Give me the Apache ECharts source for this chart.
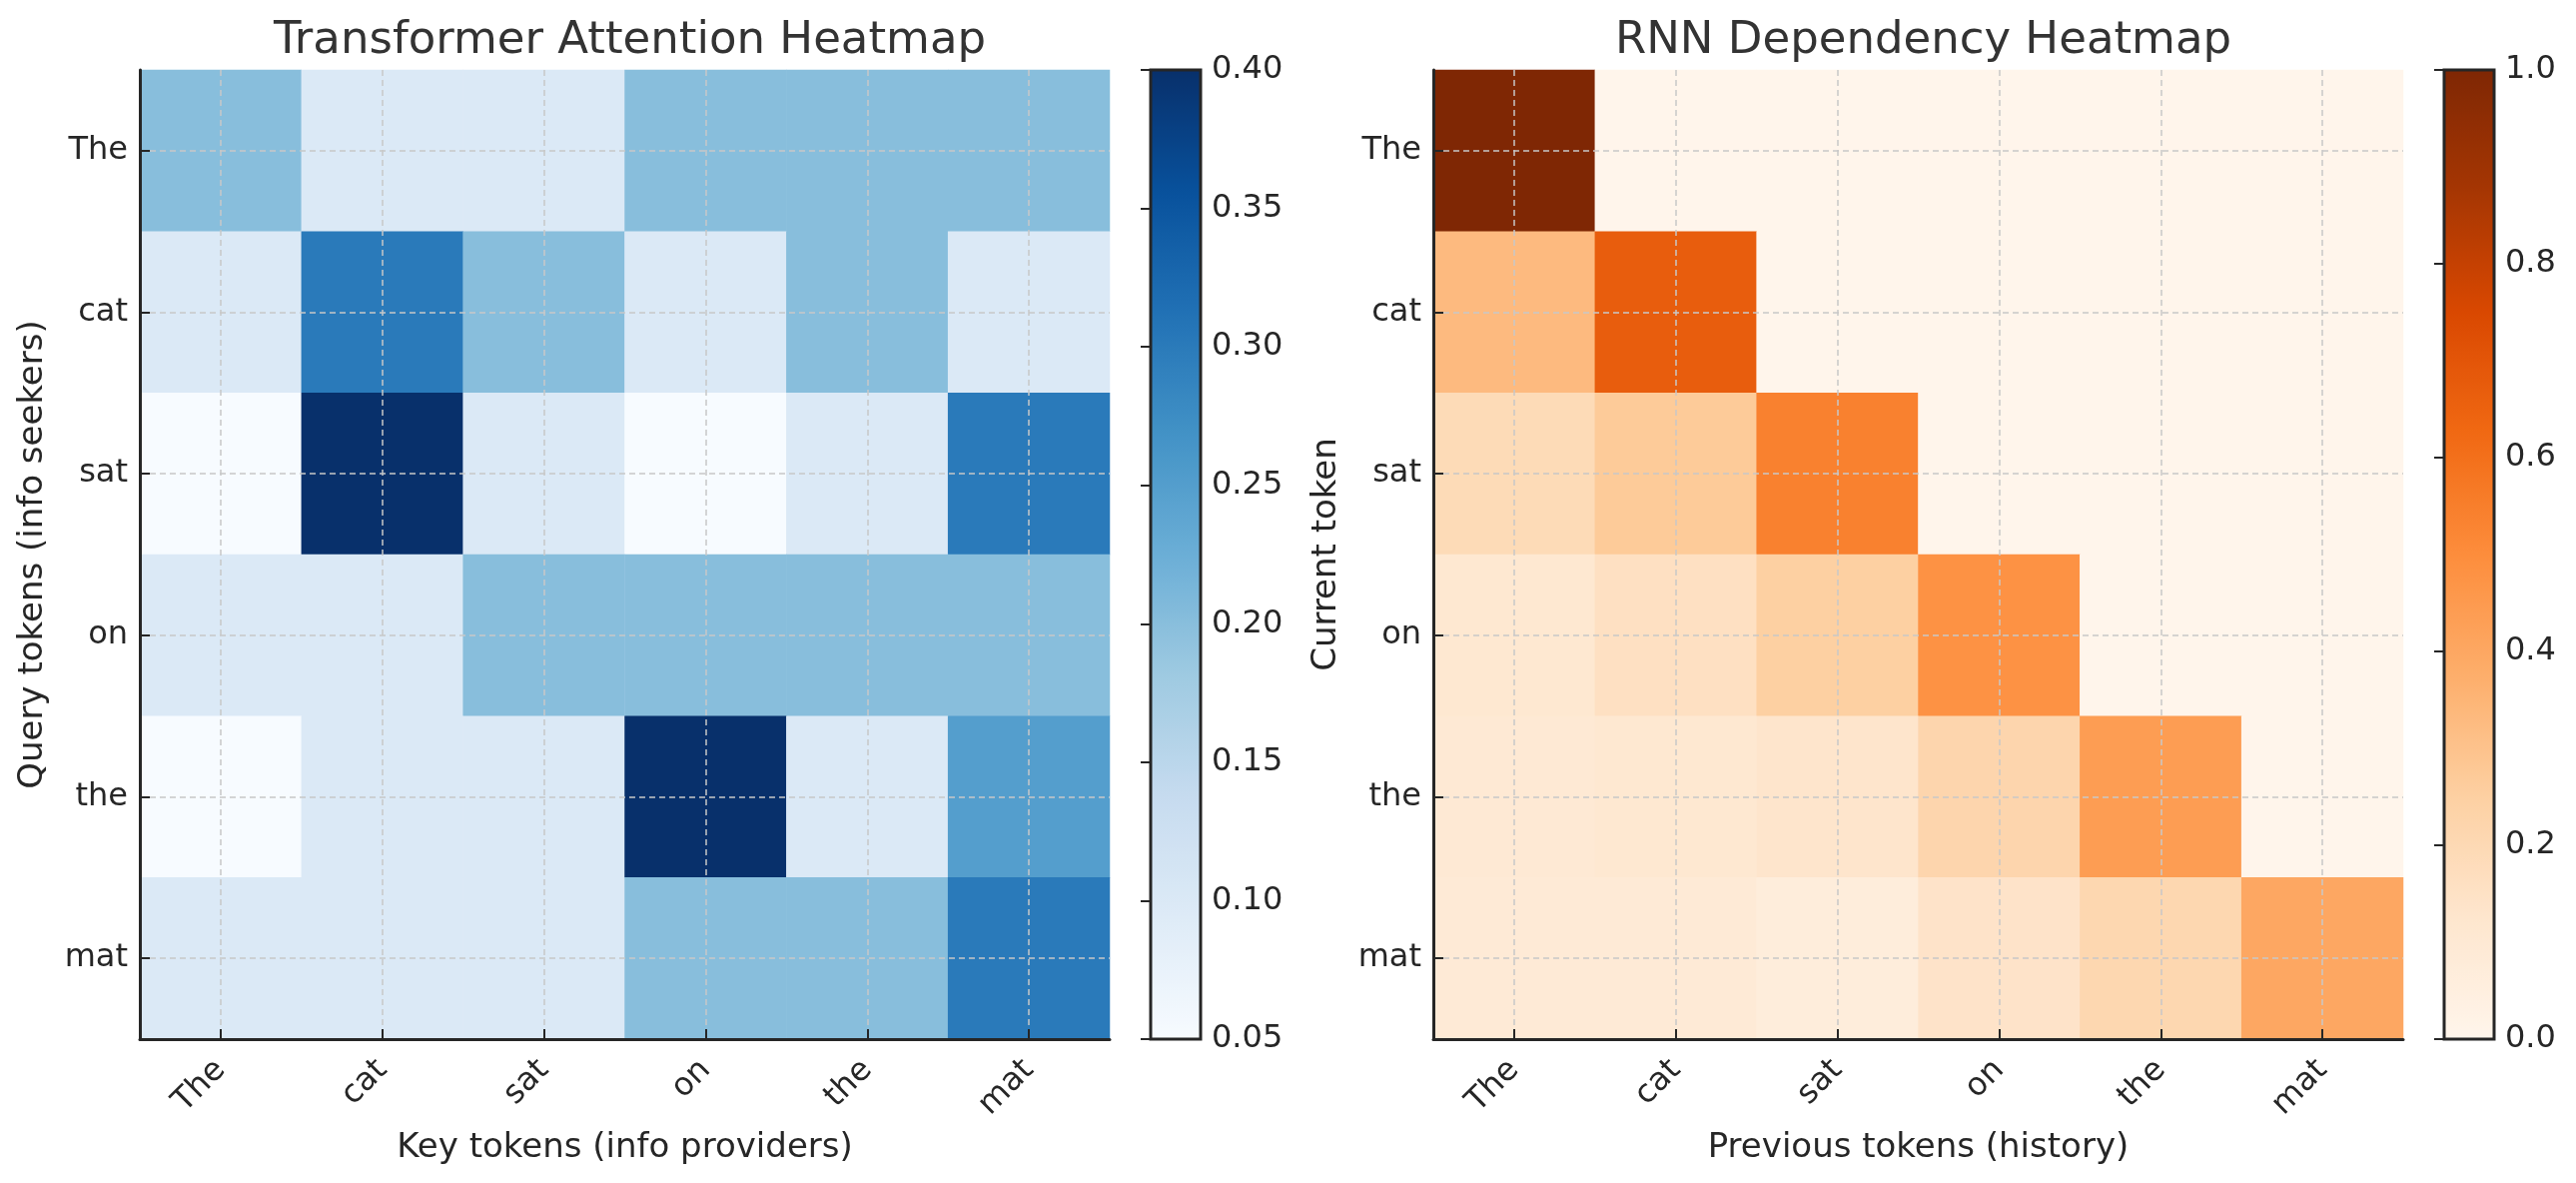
<!DOCTYPE html>
<html>
<head>
<meta charset="utf-8">
<script src="https://cdn.jsdelivr.net/npm/echarts@6/dist/echarts.min.js"></script>
<style>
  html, body { margin: 0; padding: 0; background: #fff; }
  #chart { width: 2579px; height: 1184px; }
</style>
</head>
<body>
<div id="chart"></div>
<script>
// tokens on both axes
var tokens = ['The', 'cat', 'sat', 'on', 'the', 'mat'];

// transformer attention weights, one row per query token
var attnThe = [0.2, 0.1, 0.1, 0.2, 0.2, 0.2];
var attnCat = [0.1, 0.3, 0.2, 0.1, 0.2, 0.1];
var attnSat = [0.05, 0.4, 0.1, 0.05, 0.1, 0.3];
var attnOn  = [0.1, 0.1, 0.2, 0.2, 0.2, 0.2];
var attnThe2 = [0.05, 0.1, 0.1, 0.4, 0.1, 0.25];
var attnMat = [0.1, 0.1, 0.1, 0.2, 0.2, 0.3];

// rnn dependency on previous tokens, one row per current token
var rnnThe = [1.0, 0, 0, 0, 0, 0];
var rnnCat = [0.33, 0.67, 0, 0, 0, 0];
var rnnSat = [0.19, 0.27, 0.54, 0, 0, 0];
var rnnOn  = [0.11, 0.16, 0.25, 0.48, 0, 0];
var rnnThe2 = [0.1, 0.11, 0.13, 0.22, 0.44, 0];
var rnnMat = [0.09, 0.09, 0.07, 0.14, 0.21, 0.4];

// colorbar ranges
var attnRange = [0.05, 0.40];
var rnnRange = [0.0, 1.0];

var blues = ['#f7fbff', '#deebf7', '#c6dbef', '#9ecae1', '#6baed6', '#4292c6', '#2171b5', '#08519c', '#08306b'];
var oranges = ['#fff5eb', '#fee6ce', '#fdd0a2', '#fdae6b', '#fd8d3c', '#f16913', '#d94801', '#a63603', '#7f2704'];

var attnRows = [attnThe, attnCat, attnSat, attnOn, attnThe2, attnMat];
var rnnRows = [rnnThe, rnnCat, rnnSat, rnnOn, rnnThe2, rnnMat];

function toCells(rows) {
    var out = [];
    rows.forEach(function (row, y) {
        row.forEach(function (v, x) { out.push([x, y, v]); });
    });
    return out;
}

var FONT = 'DejaVu Sans';
var INK = '#262626';

// plot boxes (px)
var L = {left: 140, top: 70, width: 971, height: 970};
var R = {left: 1435, top: 70, width: 971, height: 970};
var CB_W = 50, CB_GAP = 1012;

function heatX(gi, name) {
    return {
        type: 'category', gridIndex: gi, data: tokens, z: 10,
        name: name, nameLocation: 'middle', nameGap: 92,
        nameTextStyle: {fontFamily: FONT, fontSize: 34, color: INK},
        axisLine: {show: true, lineStyle: {color: INK, width: 3}},
        axisTick: {show: true, inside: true, alignWithLabel: true, length: 10, lineStyle: {color: INK, width: 2}},
        axisLabel: {rotate: 45, margin: 26, fontFamily: FONT, fontSize: 32, color: INK},
        splitLine: {show: true, alignWithLabel: true, lineStyle: {color: '#c8c8c8', width: 1.5, type: [6, 4]}}
    };
}
function heatY(gi, name) {
    return {
        type: 'category', gridIndex: gi, data: tokens, inverse: true, z: 10,
        name: name, nameLocation: 'middle', nameGap: 90, nameRotate: 90,
        nameTextStyle: {fontFamily: FONT, fontSize: 34, color: INK},
        axisLine: {show: true, lineStyle: {color: INK, width: 3}},
        axisTick: {show: true, inside: true, alignWithLabel: true, length: 10, lineStyle: {color: INK, width: 2}},
        axisLabel: {margin: 12, fontFamily: FONT, fontSize: 32, color: INK},
        splitLine: {show: true, alignWithLabel: true, lineStyle: {color: '#c8c8c8', width: 1.5, type: [6, 4]}}
    };
}
function cbY(gi, range, interval, digits) {
    return {
        type: 'value', gridIndex: gi, position: 'right', min: range[0], max: range[1], interval: interval, z: 10,
        axisLine: {show: false},
        axisTick: {show: true, inside: true, length: 10, lineStyle: {color: INK, width: 2}},
        axisLabel: {margin: 11, fontFamily: FONT, fontSize: 32, color: INK,
            formatter: function (v) { return v.toFixed(digits); }},
        splitLine: {show: false}
    };
}

var chart = echarts.init(document.getElementById('chart'));

chart.setOption({
    backgroundColor: '#ffffff',
    animation: false,
    title: [
        {text: 'Transformer Attention Heatmap', left: L.left + L.width / 2, textAlign: 'center', top: 14,
         textStyle: {fontFamily: FONT, fontSize: 45, fontWeight: 'normal', color: '#333333'}},
        {text: 'RNN Dependency Heatmap', left: R.left + R.width / 2, textAlign: 'center', top: 14,
         textStyle: {fontFamily: FONT, fontSize: 45, fontWeight: 'normal', color: '#333333'}}
    ],
    grid: [
        {left: L.left, top: L.top, width: L.width, height: L.height},
        {left: L.left + CB_GAP, top: L.top, width: CB_W, height: L.height, show: true, z: 10,
         backgroundColor: 'transparent', borderColor: INK, borderWidth: 3},
        {left: R.left, top: R.top, width: R.width, height: R.height},
        {left: R.left + CB_GAP, top: R.top, width: CB_W, height: R.height, show: true, z: 10,
         backgroundColor: 'transparent', borderColor: INK, borderWidth: 3}
    ],
    xAxis: [
        heatX(0, 'Key tokens (info providers)'),
        {type: 'value', gridIndex: 1, show: false, min: 0, max: 1},
        heatX(2, 'Previous tokens (history)'),
        {type: 'value', gridIndex: 3, show: false, min: 0, max: 1}
    ],
    yAxis: [
        heatY(0, 'Query tokens (info seekers)'),
        cbY(1, attnRange, 0.05, 2),
        heatY(2, 'Current token'),
        cbY(3, rnnRange, 0.2, 1)
    ],
    visualMap: [
        {type: 'continuous', seriesIndex: 0, min: attnRange[0], max: attnRange[1], calculable: false,
         hoverLink: false, orient: 'vertical', left: L.left + CB_GAP, top: L.top, padding: 0,
         itemWidth: CB_W, itemHeight: L.height, inRange: {color: blues}, textStyle: {color: 'transparent'}},
        {type: 'continuous', seriesIndex: 1, min: rnnRange[0], max: rnnRange[1], calculable: false,
         hoverLink: false, orient: 'vertical', left: R.left + CB_GAP, top: R.top, padding: 0,
         itemWidth: CB_W, itemHeight: R.height, inRange: {color: oranges}, textStyle: {color: 'transparent'}}
    ],
    series: [
        {type: 'heatmap', xAxisIndex: 0, yAxisIndex: 0, data: toCells(attnRows),
         emphasis: {disabled: true}, itemStyle: {borderWidth: 0}},
        {type: 'heatmap', xAxisIndex: 2, yAxisIndex: 2, data: toCells(rnnRows),
         emphasis: {disabled: true}, itemStyle: {borderWidth: 0}}
    ]
});
</script>
</body>
</html>
